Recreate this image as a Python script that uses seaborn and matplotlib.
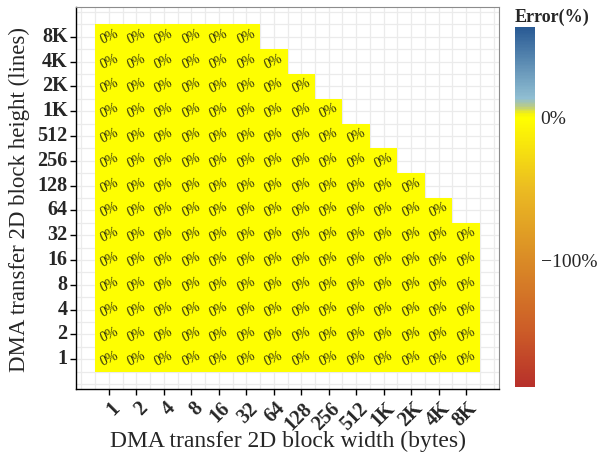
import numpy as np
import pandas as pd
import matplotlib
matplotlib.use("Agg")
import matplotlib.pyplot as plt
import seaborn as sns
from matplotlib.colors import LinearSegmentedColormap
from matplotlib.transforms import ScaledTranslation

# Block widths (bytes) and heights (lines) of the 2D DMA transfers
widths = ["1", "2", "4", "8", "16", "32", "64", "128", "256", "512", "1K", "2K", "4K", "8K"]
heights = ["8K", "4K", "2K", "1K", "512", "256", "128", "64", "32", "16", "8", "4", "2", "1"]

# Measured error (%) for each height, one entry per tested width (from 1 upward)
err_8K = [0, 0, 0, 0, 0, 0]
err_4K = [0, 0, 0, 0, 0, 0, 0]
err_2K = [0, 0, 0, 0, 0, 0, 0, 0]
err_1K = [0, 0, 0, 0, 0, 0, 0, 0, 0]
err_512 = [0, 0, 0, 0, 0, 0, 0, 0, 0, 0]
err_256 = [0, 0, 0, 0, 0, 0, 0, 0, 0, 0, 0]
err_128 = [0, 0, 0, 0, 0, 0, 0, 0, 0, 0, 0, 0]
err_64 = [0, 0, 0, 0, 0, 0, 0, 0, 0, 0, 0, 0, 0]
err_32 = [0, 0, 0, 0, 0, 0, 0, 0, 0, 0, 0, 0, 0, 0]
err_16 = [0, 0, 0, 0, 0, 0, 0, 0, 0, 0, 0, 0, 0, 0]
err_8 = [0, 0, 0, 0, 0, 0, 0, 0, 0, 0, 0, 0, 0, 0]
err_4 = [0, 0, 0, 0, 0, 0, 0, 0, 0, 0, 0, 0, 0, 0]
err_2 = [0, 0, 0, 0, 0, 0, 0, 0, 0, 0, 0, 0, 0, 0]
err_1 = [0, 0, 0, 0, 0, 0, 0, 0, 0, 0, 0, 0, 0, 0]

rows = [err_8K, err_4K, err_2K, err_1K, err_512, err_256, err_128,
        err_64, err_32, err_16, err_8, err_4, err_2, err_1]

# Colour scale limits of the legend
err_min, err_max = -189.0, 63.6
legend_breaks = [0, -100]
legend_labels = ["0%", "\u2212100%"]

table = pd.DataFrame(
    [r + [np.nan] * (len(widths) - len(r)) for r in rows],
    index=heights, columns=widths, dtype=float,
)
labels = table.map(lambda v: "" if np.isnan(v) else f"{v:.0f}%")


def pos(v):
    return (v - err_min) / (err_max - err_min)


cmap = LinearSegmentedColormap.from_list(
    "err",
    [
        (0.0, "#B7302A"),
        (pos(-150), "#CC5C28"),
        (pos(-100), "#DA8B26"),
        (pos(-50), "#EBBB22"),
        (pos(0), "#FFFF00"),
        (pos(3), "#F6F40C"),
        (pos(8), "#BACB86"),
        (pos(14), "#90BED2"),
        (1.0, "#295A94"),
    ],
)

sns.set_style("white")
plt.rcParams["font.family"] = ["Liberation Serif", "DejaVu Serif"]

fig = plt.figure(figsize=(5.98, 4.59), dpi=100)
ax = fig.add_axes([76 / 598, 1 - 389 / 459, 423 / 598, 382 / 459])
cax = fig.add_axes([515 / 598, 1 - 387 / 459, 20 / 598, 360 / 459])

sns.heatmap(
    table, ax=ax, cbar_ax=cax, cmap=cmap, vmin=err_min, vmax=err_max,
    annot=labels, fmt="", square=False, linewidths=0,
    annot_kws={"fontsize": 10, "rotation": 25, "color": "#2e2e10"},
)

# panel extent with ggplot-like expansion
ax.set_xlim(-0.7, len(widths) + 0.7)
ax.set_ylim(len(heights) + 0.7, -0.7)

# grid lines at every half step
grid = np.arange(-0.5, len(widths) + 0.51, 0.5)
for g in grid:
    ax.axvline(g, color="#EBEBEB", lw=0.9, zorder=0)
    ax.axhline(g, color="#EBEBEB", lw=0.9, zorder=0)
ax.set_axisbelow(True)
for coll in ax.collections:
    coll.set_zorder(1)

for side in ["left", "bottom"]:
    ax.spines[side].set_visible(True)
    ax.spines[side].set_color("black")
    ax.spines[side].set_linewidth(1.0)
for side in ["top", "right"]:
    ax.spines[side].set_visible(True)
    ax.spines[side].set_color("#8c8c8c")
    ax.spines[side].set_linewidth(0.8)

ax.set_xticks(np.arange(len(widths)) + 0.5)
ax.set_yticks(np.arange(len(heights)) + 0.5)
ax.set_yticklabels(heights, rotation=0, fontsize=14.5, fontweight="bold")
ax.set_xticklabels(widths, rotation=45, fontsize=14.5, fontweight="bold",
                   ha="right", va="center", rotation_mode="anchor")
ax.tick_params(axis="both", which="major", length=4, width=1, color="black",
               left=True, bottom=True, pad=2)
offset = ScaledTranslation(6 / 72, -6 / 72, fig.dpi_scale_trans)
for lab in ax.get_xticklabels():
    lab.set_transform(lab.get_transform() + offset)

# axis titles
ax.set_xlabel("")
ax.set_ylabel("")
fig.text(287.5 / 598, 1 - 441 / 459, "DMA transfer 2D block width (bytes)",
         fontsize=17, ha="center", va="center")
fig.text(19 / 598, 1 - 199 / 459, "DMA transfer 2D block height (lines)",
         fontsize=16.5, ha="center", va="center", rotation=90)

# colour legend
cbar = ax.collections[0].colorbar
cbar.outline.set_visible(False)
cbar.set_ticks(legend_breaks)
cbar.set_ticklabels(legend_labels)
cax.tick_params(axis="y", which="both", direction="in", length=4, width=0.8,
                color="white", left=True, right=True, labelsize=14, pad=4)
cax.set_title("Error(%)", fontsize=13, fontweight="bold", loc="left", pad=4)

fig.savefig("out.png", dpi=100)
